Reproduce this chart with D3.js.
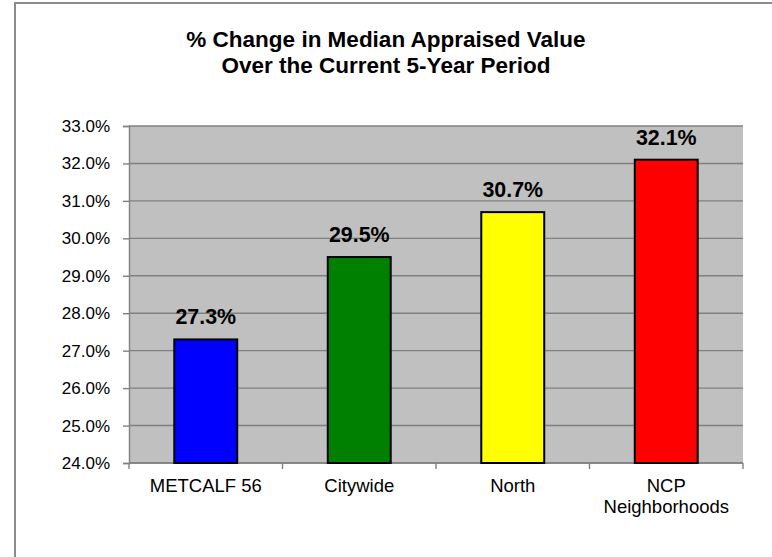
<!DOCTYPE html>
<html>
<head>
<meta charset="utf-8">
<script src="https://cdn.jsdelivr.net/npm/d3@7"></script>
<style>
  body { margin: 0; background: #fff; }
  text { font-family: Arial, "Liberation Sans", sans-serif; }
</style>
</head>
<body>
<div class="chart"></div>
<script>
// data
const categories = ["METCALF 56", "Citywide", "North", "NCP Neighborhoods"];
const values = [27.3, 29.5, 30.7, 32.1];
const barColors = ["#0000FF", "#008000", "#FFFF00", "#FF0000"];
const yTicks = [24, 25, 26, 27, 28, 29, 30, 31, 32, 33];
const titleLines = ["% Change in Median Appraised Value", "Over the Current 5-Year Period"];

const width = 772, height = 557;
const margin = { top: 126, right: 29, bottom: 94, left: 129 };

const svg = d3.select(".chart").append("svg")
    .attr("width", width)
    .attr("height", height);

// outer frame (runs off the right/bottom edge like the original)
svg.append("rect")
    .attr("x", 15).attr("y", 3)
    .attr("width", width).attr("height", height)
    .attr("fill", "none")
    .attr("stroke", "#8c8c8c")
    .attr("stroke-width", 2);

const x = d3.scaleBand()
    .domain(categories)
    .range([margin.left, width - margin.right]);

const y = d3.scaleLinear()
    .domain([24, 33])
    .range([height - margin.bottom, margin.top]);

// plot background
svg.append("rect")
    .attr("x", margin.left)
    .attr("y", margin.top)
    .attr("width", width - margin.right - margin.left)
    .attr("height", height - margin.bottom - margin.top)
    .attr("fill", "#C0C0C0");

// gridlines
svg.append("g")
    .selectAll("line")
    .data(yTicks)
    .join("line")
    .attr("x1", margin.left)
    .attr("x2", width - margin.right)
    .attr("y1", d => y(d))
    .attr("y2", d => y(d))
    .attr("stroke", "#808080")
    .attr("stroke-width", 1.4);

// y axis
const yAxis = svg.append("g")
    .attr("transform", `translate(${margin.left},0)`)
    .call(d3.axisLeft(y).tickValues(yTicks).tickSize(6).tickPadding(13)
        .tickFormat(d => d3.format(".1f")(d) + "%"));
yAxis.select(".domain").attr("stroke", "#808080").attr("stroke-width", 1.4);
yAxis.selectAll(".tick line").attr("stroke", "#808080").attr("stroke-width", 1.4);
yAxis.selectAll(".tick text")
    .attr("font-size", 17)
    .attr("fill", "#000")
    .style("font-family", "Arial, 'Liberation Sans', sans-serif");

// x axis: line + ticks on band edges
const xg = svg.append("g")
    .attr("transform", `translate(0,${height - margin.bottom})`);
xg.append("line")
    .attr("x1", margin.left).attr("x2", width - margin.right)
    .attr("stroke", "#808080").attr("stroke-width", 1.4);
const edges = categories.map(c => x(c)).concat([width - margin.right]);
xg.selectAll(".xt")
    .data(edges)
    .join("line")
    .attr("class", "xt")
    .attr("x1", d => d).attr("x2", d => d)
    .attr("y1", 0).attr("y2", 6)
    .attr("stroke", "#808080").attr("stroke-width", 1.4);

// category labels (wrapped where the original wraps)
const labelLines = { "NCP Neighborhoods": ["NCP", "Neighborhoods"] };
xg.selectAll(".cat")
    .data(categories)
    .join("text")
    .attr("class", "cat")
    .attr("text-anchor", "middle")
    .attr("font-size", 18.5)
    .attr("fill", "#000")
    .attr("transform", d => `translate(${x(d) + x.bandwidth() / 2},29)`)
    .each(function(d) {
        const lines = labelLines[d] || [d];
        d3.select(this).selectAll("tspan")
            .data(lines)
            .join("tspan")
            .attr("x", 0)
            .attr("dy", (l, i) => i === 0 ? 0 : 21)
            .text(l => l);
    });

// bars
const barW = x.bandwidth() * 0.41;
svg.append("g")
    .selectAll("rect")
    .data(values)
    .join("rect")
    .attr("x", (d, i) => x(categories[i]) + (x.bandwidth() - barW) / 2)
    .attr("y", d => y(d))
    .attr("width", barW)
    .attr("height", d => y(24) - y(d))
    .attr("fill", (d, i) => barColors[i])
    .attr("stroke", "#000")
    .attr("stroke-width", 2);

// value labels
svg.append("g")
    .selectAll("text")
    .data(values)
    .join("text")
    .attr("x", (d, i) => x(categories[i]) + x.bandwidth() / 2)
    .attr("y", d => y(d) - 15)
    .attr("text-anchor", "middle")
    .attr("font-size", 21.4)
    .attr("font-weight", "bold")
    .attr("fill", "#000")
    .text(d => d.toFixed(1) + "%");

// title
svg.append("text")
    .attr("text-anchor", "middle")
    .attr("font-size", 22.5)
    .attr("font-weight", "bold")
    .attr("fill", "#000")
    .selectAll("tspan")
    .data(titleLines)
    .join("tspan")
    .attr("x", 386)
    .attr("y", (d, i) => 47 + i * 26)
    .text(d => d);
</script>
</body>
</html>
